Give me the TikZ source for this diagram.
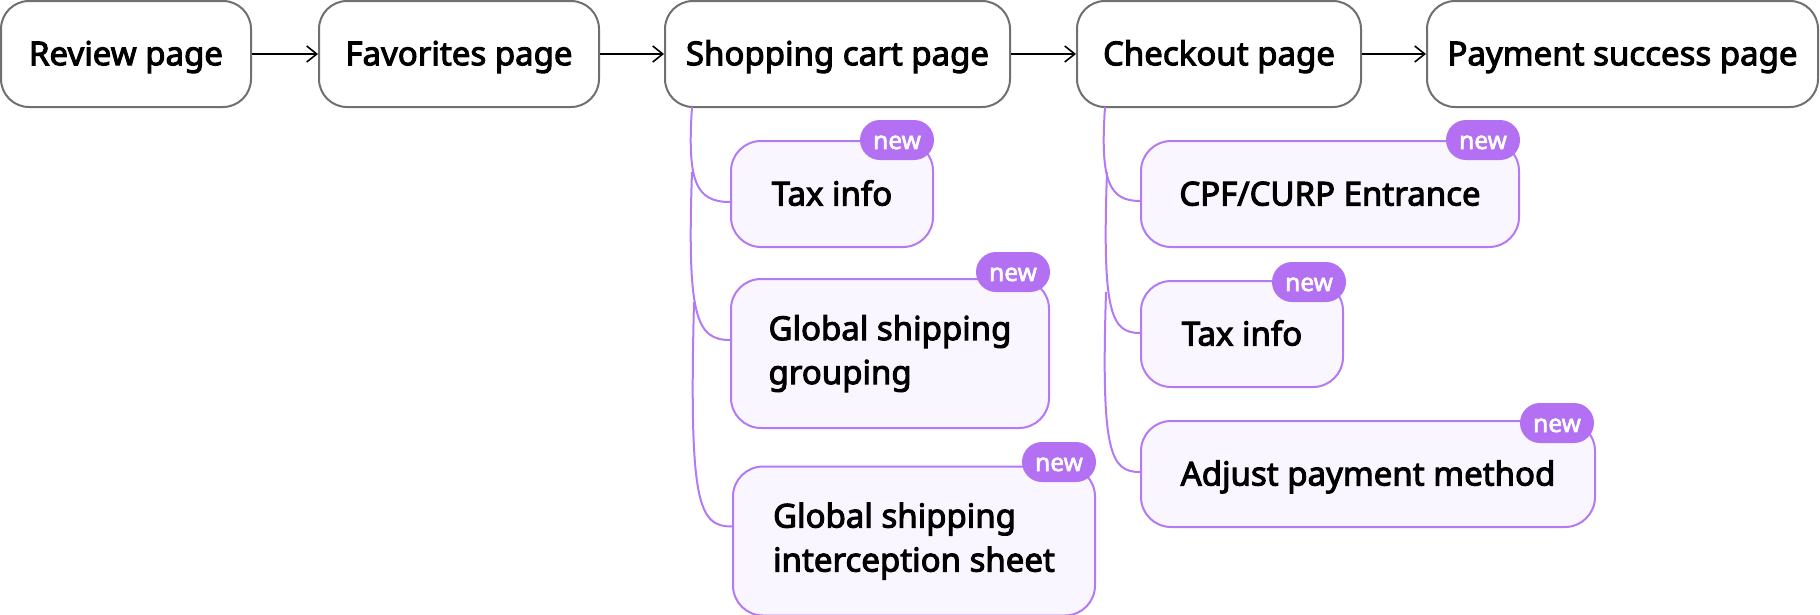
\documentclass[tikz,border=0pt]{standalone}
\usepackage{fontspec}
\newfontfamily\lblfont{Noto Sans}[FakeBold=3]
\newfontfamily\badgefont{Noto Sans}[FakeBold=2.5]
\usetikzlibrary{arrows.meta}
\definecolor{pgray}{HTML}{707070}
\definecolor{purp}{HTML}{B47AF5}
\definecolor{badgec}{HTML}{B370F2}
\definecolor{subfill}{HTML}{FAF6FF}
\begin{document}
\begin{tikzpicture}[x=1pt,y=-1pt,
  page/.style={draw=pgray, line width=2pt, fill=white, rounded corners=28pt,
    minimum height=106pt, inner sep=0pt,
    font=\lblfont\fontsize{33}{44}\selectfont, text height=22.5pt, text depth=0pt},
  sub/.style={draw=purp, line width=2pt, fill=subfill, rounded corners=30pt,
    inner sep=0pt, font=\lblfont\fontsize{33}{44}\selectfont},
  one/.style={text height=23pt, text depth=0pt, minimum height=106pt},
  two/.style={align=left, minimum height=149pt},
  badge/.style={fill=badgec, rounded corners=20pt, minimum width=74pt,
    minimum height=40pt, inner sep=0pt, text=white,
    font=\badgefont\fontsize{24.5}{24}\selectfont, text height=18pt, text depth=0pt},
  link/.style={draw=purp, line width=2pt},
  flow/.style={draw=black, line width=1.6pt, -{Straight Barb[length=10pt,width=16pt]}}
]
\useasboundingbox (0,0) rectangle (1820,614);

% main flow
\node[page, minimum width=250pt] (review) at (126,54) {Review page};
\node[page, minimum width=280pt] (fav) at (459,54) {Favorites page};
\node[page, minimum width=345pt] (cart) at (837.5,54) {Shopping cart page};
\node[page, minimum width=284pt] (check) at (1219,54) {Checkout page};
\node[page, minimum width=391pt] (pay) at (1622.5,54) {Payment success page};

\draw[flow] (review.east) -- (fav.west);
\draw[flow] (fav.east) -- (cart.west);
\draw[flow] (cart.east) -- (check.west);
\draw[flow] (check.east) -- (pay.west);

% branch start points
\coordinate (cs1) at (692,107);
\coordinate (cs2) at (692,172);
\coordinate (cs3) at (694,302);
\coordinate (ks1) at (1105,107);
\coordinate (ks2) at (1107,172);
\coordinate (ks3) at (1106,292);

% sub boxes of shopping cart
\node[sub, one, minimum width=202pt] (ctax) at (832,194) {Tax info};
\node[sub, two, minimum width=318pt, yshift=-4pt] (cgroup) at (890,349.5) {Global shipping\\grouping};
\node[sub, two, minimum width=362pt, yshift=-3.5pt] (cinter) at (914,537.5) {Global shipping\\interception sheet};

% sub boxes of checkout
\node[sub, one, minimum width=378pt] (kcpf) at (1330,194) {CPF/CURP Entrance};
\node[sub, one, minimum width=202pt] (ktax) at (1242,334) {Tax info};
\node[sub, one, minimum width=454pt] (kadj) at (1368,474) {Adjust payment method};

% connectors
\draw[link] (cs1) .. controls +(-5,75) and +(-34,0) .. ([yshift=-8pt]ctax.west);
\draw[link] (cs2) .. controls +(-5,144) and +(-34,0) .. ([yshift=13.5pt]cgroup.west);
\draw[link] (cs3) .. controls +(-5,201) and +(-34,0) .. ([yshift=14.5pt]cinter.west);
\draw[link] (ks1) .. controls +(-5,74) and +(-31,0) .. ([yshift=-7pt]kcpf.west);
\draw[link] (ks2) .. controls +(-5,141) and +(-29,0) .. ([yshift=1pt]ktax.west);
\draw[link] (ks3) .. controls +(-5,160) and +(-30,0) .. ([yshift=2pt]kadj.west);

% badges
\node[badge] (b1) at (897,140) {new};
\node[badge] (b2) at (1013,272) {new};
\node[badge] (b3) at (1059,462) {new};
\node[badge] (b4) at (1483,140) {new};
\node[badge] (b5) at (1309,282) {new};
\node[badge] (b6) at (1557,423) {new};
\end{tikzpicture}
\end{document}
